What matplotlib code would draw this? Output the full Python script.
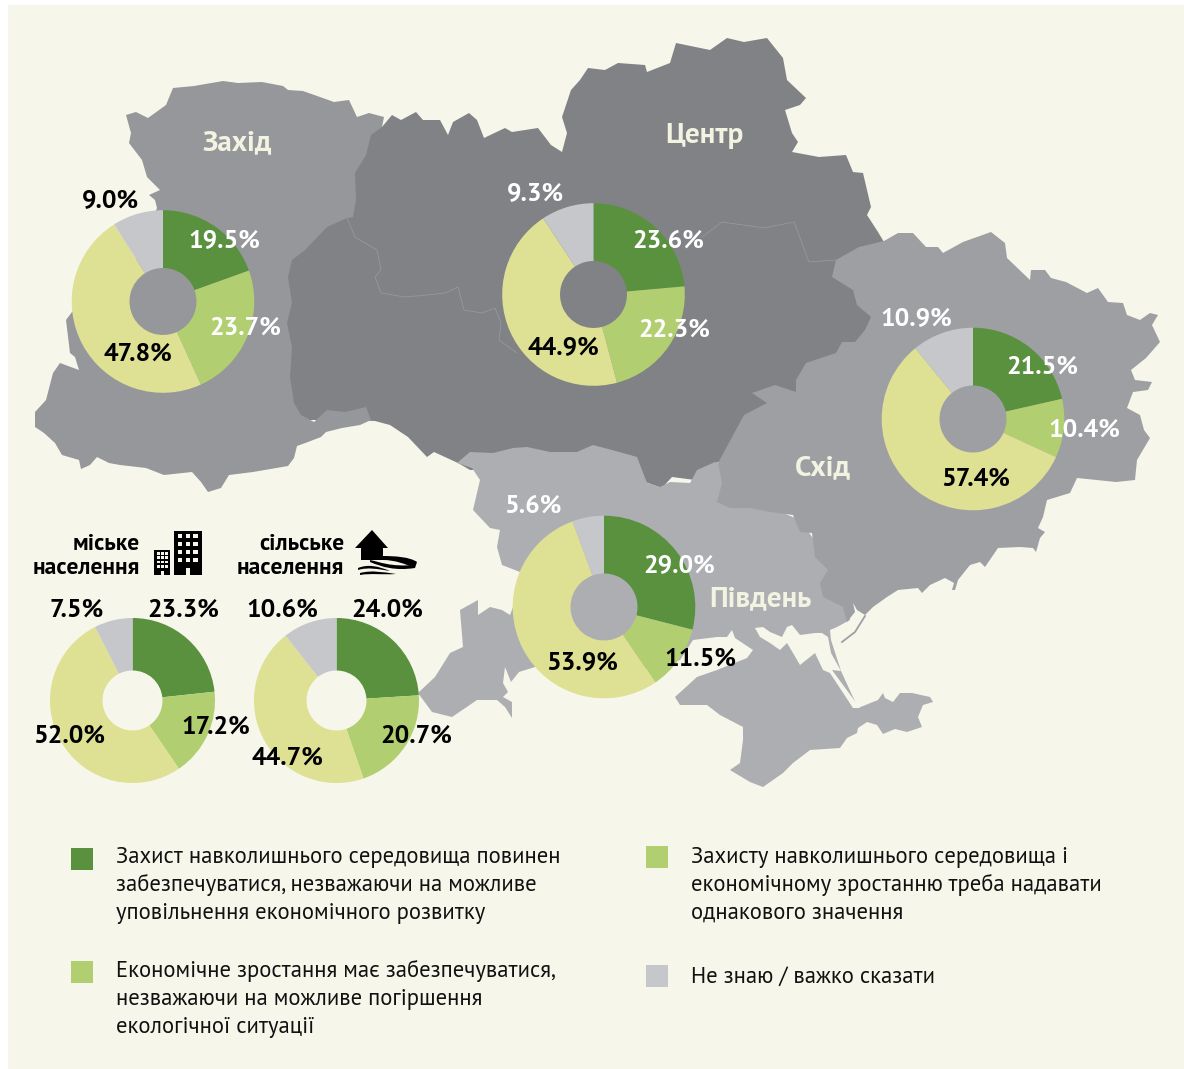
import matplotlib
matplotlib.use('Agg')
import matplotlib.pyplot as plt
from matplotlib.patches import Polygon, Rectangle, PathPatch
from matplotlib.path import Path

plt.rcParams['font.family'] = ['PT Sans', 'Open Sans', 'DejaVu Sans']

# pie values: green, light green, yellow, grey
zakhid = [19.5, 23.7, 47.8, 9.0]
tsentr = [23.6, 22.3, 44.9, 9.3]
skhid = [21.5, 10.4, 57.4, 10.9]
pivden = [29.0, 11.5, 53.9, 5.6]
miske = [23.3, 17.2, 52.0, 7.5]
silske = [24.0, 20.7, 44.7, 10.6]

region_names = ['Захід', 'Центр', 'Схід', 'Південь']
group_names = ['міське\nнаселення', 'сільське\nнаселення']

legend_left = [
    ['Захист навколишнього середовища повинен',
     'забезпечуватися, незважаючи на можливе',
     'уповільнення економічного розвитку'],
    ['Економічне зростання має забезпечуватися,',
     'незважаючи на можливе погіршення',
     'екологічної ситуації'],
]
legend_right = [
    ['Захисту навколишнього середовища і',
     'економічному зростанню треба надавати',
     'однакового значення'],
    ['Не знаю / важко сказати'],
]

GREEN, LIGHT, YELLOW, GREY = '#5a913f', '#b1cf70', '#dee093', '#c6c7ca'
pie_colors = [GREEN, LIGHT, YELLOW, GREY]
BG = '#f6f7ea'
LABEL = '#f2f3e0'
W = 'white'
K = 'black'

# map outlines in pixel coordinates
west_shape = [(126, 115), (136, 112), (148, 118), (166, 105), (173, 88), (194, 86), (223, 81), (238, 83),
              (262, 82), (283, 86), (288, 90), (303, 91), (334, 102), (349, 100), (357, 117), (369, 113),
              (384, 117), (382, 127), (371, 135), (366, 155), (355, 173), (356, 200), (353, 217), (347, 218),
              (327, 227), (305, 250), (292, 260), (288, 277), (292, 303), (287, 323), (292, 347), (290, 377),
              (294, 403), (301, 415), (314, 422), (327, 410), (345, 412), (366, 407), (371, 420), (360, 425),
              (342, 428), (326, 432), (321, 437), (308, 442), (297, 446), (294, 458), (288, 466), (253, 472),
              (229, 475), (221, 488), (208, 492), (201, 482), (192, 472), (164, 475), (146, 468), (120, 465),
              (109, 463), (97, 457), (90, 465), (81, 469), (79, 460), (62, 455), (55, 443), (44, 433),
              (35, 427), (35, 412), (46, 400), (53, 373), (60, 363), (79, 370), (75, 357), (70, 353),
              (66, 320), (72, 312), (120, 300), (157, 208), (155, 200), (149, 195), (160, 190), (147, 177),
              (142, 160), (129, 143), (131, 133)]
centre_shape = [(382, 127), (392, 115), (401, 120), (416, 112), (423, 120), (440, 120), (448, 135), (453, 122),
                (469, 113), (477, 120), (484, 138), (505, 128), (512, 132), (538, 128), (551, 145), (562, 152),
                (567, 133), (562, 117), (571, 90), (580, 80), (588, 68), (605, 70), (618, 63), (645, 65),
                (647, 72), (670, 63), (676, 43), (710, 50), (727, 38), (744, 42), (767, 38), (783, 58),
                (787, 80), (806, 98), (800, 105), (785, 110), (792, 133), (798, 142), (792, 152), (819, 157),
                (846, 155), (853, 172), (863, 173), (871, 207), (867, 215), (878, 232), (884, 242), (890, 300),
                (880, 400), (740, 470), (718, 462), (695, 480), (672, 477), (662, 488), (645, 482), (637, 463),
                (618, 470), (470, 470), (458, 463), (434, 452), (427, 457), (408, 437), (390, 425), (375, 421),
                (345, 420), (290, 420), (280, 300), (290, 255), (340, 200), (365, 128)]
east_shape = [(836, 260), (859, 247), (884, 241), (898, 233), (913, 233), (926, 247), (938, 247), (943, 253),
              (963, 242), (991, 232), (1005, 243), (1007, 258), (1030, 280), (1031, 270), (1045, 270), (1051, 278),
              (1066, 282), (1087, 293), (1098, 288), (1108, 302), (1123, 303), (1127, 315), (1140, 320), (1150, 313),
              (1158, 315), (1152, 325), (1160, 342), (1146, 358), (1131, 370), (1135, 380), (1152, 382), (1148, 390),
              (1133, 392), (1127, 408), (1140, 415), (1144, 430), (1150, 438), (1137, 460), (1135, 480), (1116, 482),
              (1077, 478), (1070, 493), (1047, 500), (1043, 517), (1038, 528), (1045, 532), (1040, 538), (1036, 552),
              (1033, 548), (1020, 547), (998, 548), (985, 567), (980, 562), (970, 565), (958, 580), (955, 590),
              (952, 590), (954, 583), (945, 578), (930, 585), (922, 593), (918, 588), (898, 590), (887, 597),
              (873, 607), (865, 615), (857, 610), (853, 603), (855, 612), (847, 622), (843, 607), (823, 597),
              (820, 583), (828, 570), (815, 557), (812, 533), (800, 532), (793, 515), (770, 512), (750, 508),
              (730, 508), (717, 502), (722, 483), (718, 463), (744, 415), (767, 403), (752, 393), (775, 385),
              (796, 392), (796, 380), (806, 363), (836, 353), (842, 342), (855, 342), (865, 330), (871, 317),
              (857, 305), (853, 290), (832, 277)]
south_shape = [(457, 463), (470, 452), (493, 453), (513, 448), (527, 447), (550, 452), (577, 452), (593, 445),
               (623, 453), (637, 457), (647, 483), (660, 487), (670, 482), (690, 483), (697, 470), (715, 462),
               (735, 470), (740, 495), (800, 520), (825, 555), (840, 580), (847, 605), (850, 620), (837, 627),
               (830, 630), (831, 640), (841, 671), (858, 708), (878, 700), (883, 693), (885, 698), (893, 702),
               (900, 693), (912, 693), (930, 697), (933, 702), (923, 705), (918, 717), (922, 727), (907, 732),
               (895, 729), (883, 734), (877, 725), (867, 722), (858, 728), (857, 733), (847, 738), (840, 748),
               (810, 750), (793, 763), (783, 773), (763, 787), (750, 782), (730, 770), (740, 763), (743, 740),
               (743, 727), (720, 715), (707, 705), (680, 705), (675, 697), (697, 677), (717, 670), (747, 658),
               (753, 650), (735, 638), (732, 630), (727, 637), (717, 637), (693, 640), (680, 660), (604, 680),
               (540, 650), (520, 572), (502, 565), (497, 547), (500, 530), (490, 528), (473, 510), (480, 480),
               (472, 468)]
odesa_shape = [(478, 600), (478, 615), (490, 607), (502, 610), (510, 615), (513, 607), (530, 600), (548, 640),
               (535, 667), (519, 672), (511, 682), (505, 667), (503, 683), (508, 692), (503, 697), (512, 702),
               (512, 718), (505, 707), (497, 700), (477, 700), (452, 717), (432, 712), (418, 693), (435, 677),
               (450, 653), (463, 647), (460, 610)]
sivash_shape = [(755, 628), (763, 627), (770, 632), (782, 637), (787, 627), (792, 625), (800, 635), (815, 633),
                (822, 633), (828, 637), (831, 653), (841, 671), (832, 670), (860, 708), (853, 708), (830, 673),
                (823, 670), (815, 653), (800, 665), (793, 653), (787, 643), (780, 650), (770, 643), (760, 637)]
inner_line_a = [(347, 218), (355, 237), (377, 250), (381, 270), (375, 277), (381, 293), (405, 297), (427, 295),
                (445, 293), (458, 287), (464, 310), (482, 313), (495, 308), (501, 323), (499, 340), (517, 353)]
inner_line_b = [(702, 237), (722, 222), (764, 228), (794, 222), (809, 262), (836, 260)]
spit_line = [(865, 616), (855, 632), (842, 642)]

# pies: cx, cy, r, hole radius
pie_pos = [(163, 301.5, 91.3, 33.5), (593.5, 294.5, 91.3, 33.5), (973, 419, 91.3, 33.5), (604, 607, 91.3, 33.5),
           (132.5, 700.5, 82.5, 30), (336.5, 700.5, 82.5, 30)]
pie_data = [zakhid, tsentr, skhid, pivden, miske, silske]

# label centres and colours per pie
label_pos = [[(224, 240), (245, 327), (138, 353), (110.5, 200)],
             [(668, 240), (674, 329), (563, 347), (535, 193)],
             [(1042, 366), (1084, 429), (976, 478), (916, 318)],
             [(679, 565), (700, 658), (582, 662), (533, 505)],
             [(183, 609), (216, 726), (69, 735), (77, 609)],
             [(387, 609), (416, 735), (287, 757), (282, 609)]]
label_col = [[W, W, K, K], [W, W, K, W], [W, W, K, W], [W, K, K, W], [K, K, K, K], [K, K, K, K]]

fig = plt.figure(figsize=(11.84, 10.69), dpi=100, facecolor='white')
ax = fig.add_axes([0, 0, 1, 1])

ax.add_patch(Rectangle((8, 5), 1176, 1064, fc=BG, ec='none', zorder=0))

# map
ax.add_patch(Polygon(centre_shape, fc='#818286', ec='none', zorder=1))
ax.add_patch(Polygon(south_shape, fc='#adaeb2', ec='none', zorder=2))
ax.add_patch(Polygon(odesa_shape, fc='#adaeb2', ec='none', zorder=2))
ax.add_patch(Polygon(east_shape, fc='#9e9fa3', ec='none', zorder=3))
ax.add_patch(Polygon(west_shape, fc='#96979b', ec='none', zorder=3))
ax.add_patch(Polygon(sivash_shape, fc=BG, ec='none', zorder=4))
for line in (inner_line_a, inner_line_b):
    ax.plot([p[0] for p in line], [p[1] for p in line], color='#97989c', lw=0.6, zorder=4)
ax.plot([p[0] for p in spit_line], [p[1] for p in spit_line], color='#9e9fa3', lw=1.3, zorder=4)

# pies, y axis is flipped so start at -90 and go counterclock to look clockwise
for vals, (cx, cy, r, hole) in zip(pie_data, pie_pos):
    wedges, _ = ax.pie(vals, colors=pie_colors, startangle=-90, counterclock=True, center=(cx, cy), radius=r,
                       wedgeprops={'width': r - hole, 'linewidth': 0})
    for w in wedges:
        w.set_zorder(5)

for vals, pos, cols in zip(pie_data, label_pos, label_col):
    for v, (x, y), c in zip(vals, pos, cols):
        ax.text(x, y + 1, '%.1f%%' % v, color=c, fontsize=18.5, fontweight='bold', ha='center', va='center', zorder=6)

# region names
for name, (x, y) in zip(region_names, [(237, 142), (704, 135), (823, 467), (760, 598)]):
    ax.text(x, y + 1, name, color=LABEL, fontsize=21, fontweight='bold', ha='center', va='center', zorder=6)

# urban / rural headers
for name, x in zip(group_names, [140, 344]):
    for line, y in zip(name.split('\n'), [544, 567]):
        ax.text(x, y + 1, line, color=K, fontsize=16.9, fontweight='bold', ha='right', va='center', zorder=6)

# buildings
ax.add_patch(Rectangle((154, 550), 16, 25, fc=K, ec='none', zorder=6))
ax.add_patch(Rectangle((174, 531), 28, 44, fc=K, ec='none', zorder=6))
for i in range(3):
    for j in range(4):
        ax.add_patch(Rectangle((157 + i * 4, 552 + j * 4.4), 2.6, 2.6, fc=BG, ec='none', zorder=7))
ax.add_patch(Rectangle((161, 571), 3, 4, fc=BG, ec='none', zorder=7))
for i in range(3):
    for j in range(4):
        ax.add_patch(Rectangle((178 + i * 7.7, 534 + j * 8), 4.3, 4.3, fc=BG, ec='none', zorder=7))
ax.add_patch(Rectangle((186, 568), 4.3, 7, fc=BG, ec='none', zorder=7))

# house and fields
ax.add_patch(Polygon([(372, 530), (388, 548), (383, 548), (383, 560), (361, 560), (361, 548), (355, 548)],
                     fc=K, ec='none', zorder=6))
field_a = [(Path.MOVETO, (383, 556)), (Path.CURVE4, (395, 556)), (Path.CURVE4, (410, 557)), (Path.CURVE4, (417, 562)),
           (Path.LINETO, (415, 568)), (Path.CURVE4, (405, 564)), (Path.CURVE4, (395, 560)), (Path.CURVE4, (383, 560)),
           (Path.CLOSEPOLY, (383, 556))]
field_b = [(Path.MOVETO, (370, 560)), (Path.CURVE4, (380, 562)), (Path.CURVE4, (390, 567)), (Path.CURVE4, (415, 565)),
           (Path.LINETO, (415, 568)), (Path.CURVE4, (395, 571)), (Path.CURVE4, (382, 567)), (Path.CURVE4, (370, 562)),
           (Path.CLOSEPOLY, (370, 560))]
field_c = [(Path.MOVETO, (358, 568)), (Path.CURVE4, (368, 564)), (Path.CURVE4, (378, 566)), (Path.CURVE4, (390, 571)),
           (Path.CURVE4, (378, 569)), (Path.CURVE4, (368, 567)), (Path.CURVE4, (358, 570)), (Path.CLOSEPOLY, (358, 568))]
field_d = [(Path.MOVETO, (360, 573)), (Path.CURVE4, (372, 570)), (Path.CURVE4, (382, 572)), (Path.CURVE4, (396, 574)),
           (Path.CURVE4, (382, 575)), (Path.CURVE4, (372, 573)), (Path.CURVE4, (360, 575)), (Path.CLOSEPOLY, (360, 573))]
for field in (field_a, field_b, field_c, field_d):
    codes, verts = zip(*field)
    ax.add_patch(PathPatch(Path(verts, codes), fc=K, ec='none', zorder=6))

# legend
for x_box, x_text, items, boxes, tops in [(71, 116, legend_left, [GREEN, LIGHT], [(848, 856), (961, 970)]),
                                          (646, 691, legend_right, [LIGHT, GREY], [(846, 856), (965, 976)])]:
    for lines, col, (y_box, y_text) in zip(items, boxes, tops):
        ax.add_patch(Rectangle((x_box, y_box), 22, 22, fc=col, ec='none', zorder=6))
        for i, line in enumerate(lines):
            ax.text(x_text, y_text + i * 28 + 1, line, color='#111111', fontsize=16.3, ha='left', va='center', zorder=6)

ax.set_aspect('auto')
ax.set_xlim(0, 1184)
ax.set_ylim(1069, 0)
ax.axis('off')
fig.savefig('out.png', dpi=100, facecolor='white')
